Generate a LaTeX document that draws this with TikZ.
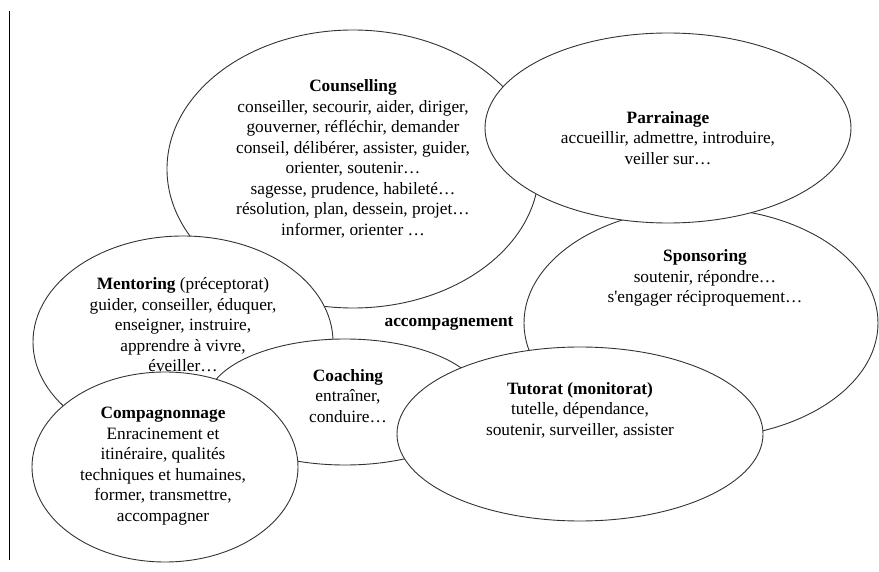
\documentclass[tikz,border=0pt]{standalone}
\usepackage{fontspec}
\setmainfont{Liberation Serif}
\usetikzlibrary{shapes.geometric}

\begin{document}
\begin{tikzpicture}[x=1pt,y=-1pt]
		\tikzset{bubble/.style={draw=black!80,
								ellipse,
								line width=0.9pt,
								fill=white,
								inner sep=0pt},
				 words/.style={align=center,
							   inner sep=0pt,
							   font=\fontsize{17.3}{20.5}\selectfont}}
		\useasboundingbox (0,0) rectangle (879,572);
		% Left rule
		\coordinate (ruletop) at (9,11);
		\coordinate (rulebot) at (9,560);
		\draw[line width=0.8pt] (ruletop) -- (rulebot);

		% Ellipses, later ones cover earlier ones
	    \node[bubble, minimum width=372, minimum height=278] (counselling) at (353,169) {};
	    \node[bubble, minimum width=354, minimum height=230] (sponsoring) at (701,323) {};
	    \node[bubble, minimum width=366, minimum height=190] (parrainage) at (668,128) {};
	    \node[bubble, minimum width=300, minimum height=212] (mentoring) at (183,342) {};
	    \node[bubble, minimum width=276, minimum height=126] (coaching) at (345,402) {};
	    \node[bubble, minimum width=266, minimum height=190] (compagnonnage) at (165,467) {};
	    \node[bubble, minimum width=366, minimum height=174] (tutorat) at (580,434) {};

		% Texts
	    \node[words] (counsellingtext) at (353,159) {\textbf{Counselling}\\conseiller, secourir, aider, diriger,\\gouverner, réfléchir, demander\\conseil, délibérer, assister, guider,\\orienter, soutenir…\\sagesse, prudence, habileté…\\résolution, plan, dessein, projet…\\informer, orienter …};
	    \node[words] (parrainagetext) at (668,138) {\textbf{Parrainage}\\accueillir, admettre, introduire,\\veiller sur…};
	    \node[words] (sponsoringtext) at (705,278) {\textbf{Sponsoring}\\soutenir, répondre…\\s\textquotesingle engager réciproquement…};
	    \node[words] (mentoringtext) at (183,325) {\textbf{Mentoring} (préceptorat)\\guider, conseiller, éduquer,\\enseigner, instruire,\\apprendre à vivre,\\éveiller…};
	    \node[words] (coachingtext) at (348,396) {\textbf{Coaching}\\entraîner,\\conduire…};
	    \node[words] (compagnonnagetext) at (163,466) {\textbf{Compagnonnage}\\Enracinement et\\itinéraire, qualités\\techniques et humaines,\\former, transmettre,\\accompagner};
	    \node[words] (tutorattext) at (580,410) {\textbf{Tutorat (monitorat)}\\tutelle, dépendance,\\soutenir, surveiller, assister};
	    \node[words] (centre) at (449,324) {\textbf{accompagnement}};
	\end{tikzpicture}
\end{document}
